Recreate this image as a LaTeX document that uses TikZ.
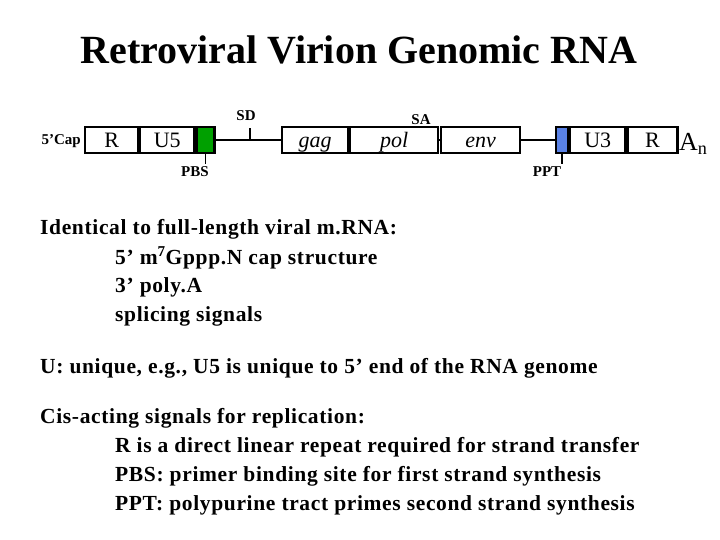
\documentclass[tikz,border=0pt]{standalone}
\usepackage{fontspec}
\setmainfont{Liberation Serif}
\newfontfamily\spaced[LetterSpace=3]{Liberation Serif}
\begin{document}
\begin{tikzpicture}[x=1pt,y=-1pt,
  seg/.style={draw,line width=2.2pt,minimum height=26pt,inner sep=0pt,anchor=west,text height=16pt,text depth=1pt,font=\fontsize{22}{22}\selectfont},
  lbl/.style={font=\bfseries\fontsize{15}{15}\selectfont,inner sep=0pt},
  txt/.style={anchor=west,inner sep=0pt,font=\spaced\bfseries\fontsize{21.5}{24}\selectfont}]
\useasboundingbox (0,0) rectangle (720,540);
\node[font=\bfseries\fontsize{40}{40}\selectfont] (title) at (359,50) {Retroviral Virion Genomic RNA};
% genome
\node[lbl,anchor=east] (cap) at (81,141) {5'Cap};
\node[seg,minimum width=53pt] (r1) at (84,140) {R};
\node[seg,minimum width=54pt] (u5) at (r1.east) {U5};
\node[seg,minimum width=18pt,fill={rgb,255:red,0;green,160;blue,0}] (pbsb) at (u5.east) {};
\node[seg,minimum width=66pt] (gag) at (281,140) {\itshape gag};
\node[seg,minimum width=88pt] (pol) at (gag.east) {\itshape pol};
\node[seg,minimum width=79pt] (env) at (440,140) {\itshape env};
\node[seg,minimum width=12pt,fill={rgb,255:red,90;green,130;blue,230}] (pptb) at (555,140) {};
\node[seg,minimum width=55pt] (u3) at (pptb.east) {U3};
\node[seg,minimum width=50pt] (r2) at (u3.east) {R};
\node[anchor=west,inner sep=0pt,font=\fontsize{26}{26}\selectfont] (an) at (679,144) {A\textsubscript{n}};
\draw[line width=2.2pt] (pbsb.east) -- (gag.west);
\draw[line width=2.2pt] (pol.east) -- (env.west);
\draw[line width=2.2pt] (env.east) -- (pptb.west);
\coordinate (sdb) at (250,141);
\coordinate (sdt) at (250,128);
\draw[line width=1.5pt] (sdb) -- (sdt);
\node[lbl] (sd) at (246,116) {SD};
\node[lbl] (sa) at (421,120) {SA};
\draw[line width=1.5pt] (pbsb.south) -- ++(0,10) coordinate (pbst);
\node[lbl] (pbs) at (195,172) {PBS};
\draw[line width=1.5pt] (pptb.south) -- ++(0,10) coordinate (pptt);
\node[lbl] (ppt) at (547,172) {PPT};
% text
\node[txt] (t1) at (40,229) {Identical to full-length viral m.RNA:};
\node[txt] (t2) at (115,258) {5’ m\textsuperscript{7}Gppp.N cap structure};
\node[txt] (t3) at (115,287) {3’ poly.A};
\node[txt] (t4) at (115,316) {splicing signals};
\node[txt] (t5) at (40,368) {U: unique, e.g., U5 is unique to 5’ end of the RNA genome};
\node[txt] (t6) at (40,418) {Cis-acting signals for replication:};
\node[txt] (t7) at (115,447) {R is a direct linear repeat required for strand transfer};
\node[txt] (t8) at (115,476) {PBS: primer binding site for first strand synthesis};
\node[txt] (t9) at (115,505) {PPT: polypurine tract primes second strand synthesis};
\end{tikzpicture}
\end{document}
